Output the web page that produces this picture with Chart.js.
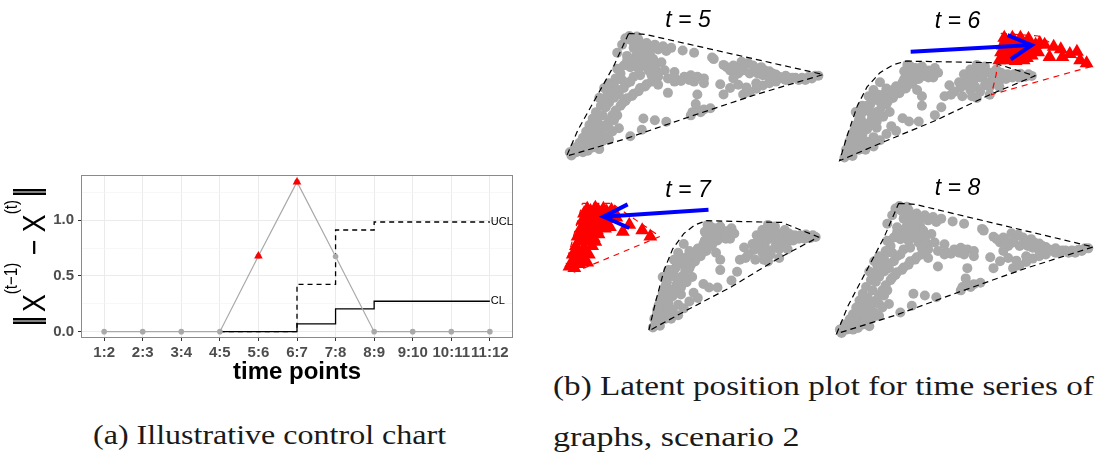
<!DOCTYPE html>
<html>
<head>
<meta charset="utf-8">
<script src="https://cdn.jsdelivr.net/npm/chart.js@4.4.1/dist/chart.umd.min.js"></script>
<style>
  body { margin: 0; background: #fff; width: 1099px; height: 454px; overflow: hidden; position: relative; }
  canvas { position: absolute; }
  .cap { position: absolute; font-family: "Liberation Serif", serif; font-size: 28px; color: #1a1a1a;
         white-space: nowrap; transform-origin: left center; line-height: 1; }
</style>
</head>
<body>
<canvas id="controlChart" width="545" height="235" style="left:0;top:160px"></canvas>
<canvas id="panel5" width="280" height="175" style="left:555px;top:0"></canvas>
<canvas id="panel6" width="269" height="175" style="left:830px;top:0"></canvas>
<canvas id="panel7" width="280" height="180" style="left:555px;top:170px"></canvas>
<canvas id="panel8" width="269" height="180" style="left:830px;top:170px"></canvas>
<div class="cap" style="left:93px;top:421px;transform:scaleX(1.144)">(a) Illustrative control chart</div>
<div class="cap" style="left:553px;top:372px;transform:scaleX(1.185)">(b) Latent position plot for time series of</div>
<div class="cap" style="left:553px;top:423px;transform:scaleX(1.215)">graphs, scenario 2</div>
<script>
// ---- control chart data ----
const timeLabels = ['1:2', '2:3', '3:4', '4:5', '5:6', '6:7', '7:8', '8:9', '9:10', '10:11', '11:12'];
const normDiff = [0, 0, 0, 0, 0.68, 1.345, 0.675, 0, 0, 0, 0];
const flaggedDiff = [null, null, null, null, 0.68, 1.345, null, null, null, null, null];
const centerLine = [null, null, null, 0, 0, 0.07, 0.205, 0.273, 0.273, 0.273, 0.273];
const upperLimit = [null, null, null, 0, 0, 0.425, 0.913, 0.985, 0.985, 0.985, 0.985];

// ---- latent positions (arbitrary units) ----
const greyT5 = [
  [215,120],[240,120],[265,130],[290,135],[315,140],[340,145],[225,145],[250,155],[275,165],[230,175],
  [255,185],[280,190],[205,170],[195,200],[215,205],[240,210],[270,215],[300,220],[185,225],[175,210],
  [310,190],[225,235],[212,108],[235,110],[375,153],[410,160],[465,175],
  [330,240],[355,243],[380,235],[400,230],[420,235],[440,240],[300,235],
  [280,250],[260,265],[240,280],[220,295],[200,310],[185,325],[170,340],[160,355],[150,370],[140,385],
  [125,400],[110,415],[95,430],[80,445],[65,460],[50,470],[35,480],
  [160,270],[145,285],[135,305],[125,325],[110,345],[100,365],[90,385],[80,405],[70,425],[60,440],
  [45,455],[205,255],[190,245],[150,315],[175,160],[190,135],
  [330,285],[420,290],[415,320],[425,340],[405,345],[440,337],[460,333],[255,365],[290,370],[325,375],
  [250,400],[215,420],[180,395],[160,405],[130,435],[150,430],[120,460],[400,355],[430,345],
  [470,180],[500,198],[520,215],[540,212],[555,188],[575,192],[560,215],[580,225],[600,212],[615,205],
  [620,230],[640,218],[640,240],[660,228],[660,245],[680,240],[690,232],[700,245],[720,238],[740,238],
  [760,236],[780,232],[490,258],[500,290],[560,290],[580,282],[600,272],[620,262],
  [200,115],[225,128],[250,138],[275,145],[300,150],[325,155],[205,185],[230,190],[260,200],[290,205],
  [245,230],[215,250],[195,270],[180,290],[170,240],[165,255],[280,230],[320,215],[350,220],[235,165],
  [260,175],[285,180],
  [175,275],[165,300],[150,290],[140,330],[130,355],[115,375],[105,395],[95,410],[85,425],[75,445],
  [65,450],[55,465],[40,470],[30,470],[115,440],[100,455],[85,465],[70,470],[135,420],[130,390],
  [150,395],[165,370],[175,355],[120,300],[135,270],[150,255],
  [290,245],[265,258],[245,270],[225,288],[205,302],[190,318],[300,260],[350,250],[370,248],[395,245],
  [410,250],[440,255],
  [510,205],[530,200],[545,225],[565,200],[590,200],[605,225],[625,215],[650,225],[670,235],[690,245],
  [710,238],[730,245],[750,245],[770,240],[790,232],[530,240],[545,260],[520,270],[600,255],[570,268],
  [640,255],[660,250]
];
const hullT5 = [[210,100],[260,103],[805,228],[600,290],[400,358],[200,428],[20,482],[55,400],[110,300],[165,200],[210,100]];

const greyT6 = [
  [30,485],[45,465],[60,445],[75,425],[90,405],[100,385],[115,365],[130,345],[150,325],[170,305],
  [190,290],[210,275],[230,260],[250,245],[270,235],[295,240],[240,210],[225,220],[215,240],[200,255],
  [180,268],[160,290],[140,302],[120,312],[100,325],[85,345],[70,365],[60,388],[50,410],[40,432],
  [95,300],[150,275],[245,280],[20,495],[65,470],[110,280],[130,255],[75,330],[55,350],[35,455],
  [260,330],[330,300],[320,335],[300,360],[200,370],[220,380],[250,380],[165,395],[180,410],[150,420],
  [110,430],[90,445],[70,455],[120,400],[80,385],[260,300],[345,265],
  [390,230],[410,215],[430,200],[455,205],[440,240],[460,255],[420,250],[400,265],[380,272],[385,300],
  [440,285],[470,270],[480,240],[500,250],[520,245],[540,240],[560,240],[580,238],[600,235],[430,305],
  [350,295],[500,270],[470,295],[215,200],[300,210],[260,215],
  [25,470],[40,480],[50,455],[65,430],[80,410],[95,395],[105,370],[120,350],[135,330],[155,315],
  [175,295],[195,280],[215,265],[235,250],[255,238],[280,240],[245,225],[230,235],[205,245],[190,270],
  [170,280],[145,290],[125,295],[105,310],[90,330],[75,350],[65,375],[55,395],[45,420],[35,445],
  [205,220],[225,205],[260,205],[280,218],[310,225],[100,350],[120,380],[140,365],[160,350],[110,460],
  [130,440],[85,470],[45,490],
  [395,245],[415,230],[435,220],[450,230],[470,225],[490,215],[505,225],[525,230],[545,230],[565,228],
  [590,230],[410,280],[425,270],[455,265],[480,260],[375,255],[360,285],[415,300]
];
const hullT6 = [[210,188],[480,193],[610,235],[470,295],[300,378],[130,450],[5,505],[30,420],[60,330],[90,270],[130,225],[170,200],[210,188]];

const redT6 = [
  [520,124],[545,122],[570,124],[595,128],[612,136],[510,138],[535,140],[560,140],[585,142],[605,150],
  [505,160],[530,162],[555,165],[580,165],[600,170],[500,185],[525,185],[550,188],[575,185],
  [515,114],[540,114],[565,114],[590,117],[520,130],[545,130],[570,130],[595,134],[515,150],[540,150],
  [565,152],[590,155],[510,175],[535,175],[560,178],[585,178],[610,144],[620,160],
  [625,130],[640,136],[655,175],[668,142],[690,150],[695,175],[718,165],[740,158],[750,185],[770,195]
];
const redHullT6 = [[505,100],[620,108],[785,205],[475,295],[490,230],[505,100]];
const arrowShaftT6 = [[225,158],[600,137]];
const arrowHeadT6 = [[525,105],[600,137],[535,182]];

const redT7 = [
  [75,117],[100,114],[125,117],[150,121],[65,132],[90,132],[115,132],[140,137],[60,155],[85,158],
  [110,160],[135,162],[55,180],[80,185],[105,185],[130,180],[45,205],[70,210],[95,210],[40,235],
  [65,240],[90,235],[30,262],[55,265],[80,262],[25,290],[50,292],[75,288],
  [85,124],[110,124],[135,126],[160,128],[75,142],[100,146],[125,146],[150,149],[70,170],[95,172],
  [120,172],[145,175],[60,195],[85,198],[110,198],[50,220],[75,222],[100,222],[45,250],[70,252],
  [40,278],[65,278],[35,305],[20,300],
  [165,145],[185,190],[205,168],[245,185],[270,205]
];
const redHullT7 = [[60,100],[150,100],[300,205],[35,318],[10,290],[60,100]];
const arrowShaftT7 = [[450,120],[125,142]];
const arrowHeadT7 = [[200,103],[125,142],[205,178]];

const GREY = '#a9a9a9';
const TITLE_SIZE = 23;

function toXY(pts) {
    return pts.map(p => ({ x: p[0], y: p[1] }));
}

function series(values) {
    return values.map((v, i) => ({ x: i, y: v }));
}

// 1. Control chart
const endLabels = {
    id: 'endLabels',
    beforeDatasetsDraw(chart) {
        const a = chart.chartArea, ctx = chart.ctx;
        ctx.save();
        ctx.strokeStyle = '#8a8a8a';
        ctx.lineWidth = 1;
        ctx.strokeRect(a.left + 0.5, a.top + 0.5, a.right - a.left - 1, a.bottom - a.top - 1);
        ctx.restore();
    },
    afterDatasetsDraw(chart) {
        const ctx = chart.ctx;
        ctx.save();
        ctx.font = '11px "Liberation Sans"';
        ctx.fillStyle = '#000';
        ctx.textBaseline = 'middle';
        chart.data.datasets.forEach((ds, i) => {
            if (!ds.endLabel) return;
            const pts = chart.getDatasetMeta(i).data;
            const last = pts[pts.length - 1];
            ctx.fillText(ds.label, last.x + 1, last.y);
        });
        ctx.restore();
    }
};

// y axis title ||X^(t-1) - X^(t)||, raised superscripts, read bottom to top
const normTitle = {
    id: 'normTitle',
    afterDraw(chart) {
        const ctx = chart.ctx;
        const big = '32px "Liberation Sans"', small = '18px "Liberation Sans"', bar = '35px "Liberation Sans"';
        const parts = [
            { text: '|', font: bar, rise: 6, after: -5 },
            { text: '|', font: bar, rise: 6, after: 4 },
            { text: 'X', font: big, rise: 0, after: 0 },
            { text: '(t\u22121)', font: small, rise: 28, after: 0 },
            { text: ' \u2212 ', font: big, rise: 0, after: 0 },
            { text: 'X', font: big, rise: 0, after: 0 },
            { text: '(t)', font: small, rise: 28, after: 3 },
            { text: '|', font: bar, rise: 6, after: -5 },
            { text: '|', font: bar, rise: 6, after: 0 }
        ];
        ctx.save();
        let total = 0;
        parts.forEach(p => { ctx.font = p.font; p.w = ctx.measureText(p.text).width; total += p.w + p.after; });
        const a = chart.chartArea;
        ctx.translate(45, (a.top + a.bottom) / 2);
        ctx.rotate(-Math.PI / 2);
        ctx.scale(140 / total, 1);
        ctx.fillStyle = '#000';
        ctx.textBaseline = 'alphabetic';
        let x = -total / 2;
        parts.forEach(p => {
            ctx.font = p.font;
            ctx.fillText(p.text, x, -p.rise);
            x += p.w + p.after;
        });
        ctx.restore();
    }
};

new Chart(document.getElementById('controlChart'), {
    type: 'line',
    data: {
        datasets: [{
            label: 'flagged',
            type: 'scatter',
            data: series(flaggedDiff),
            pointStyle: 'triangle',
            pointRadius: 5,
            backgroundColor: '#ff0000',
            borderWidth: 0
        }, {
            label: 'norm',
            data: series(normDiff),
            borderColor: GREY,
            borderWidth: 1.2,
            pointRadius: 2.8,
            pointBackgroundColor: GREY,
            pointBorderWidth: 0,
            tension: 0
        }, {
            label: 'CL',
            endLabel: true,
            data: series(centerLine),
            stepped: 'before',
            borderColor: '#000',
            borderWidth: 1.3,
            pointRadius: 0
        }, {
            label: 'UCL',
            endLabel: true,
            data: series(upperLimit),
            stepped: 'before',
            borderColor: '#000',
            borderWidth: 1.3,
            borderDash: [5, 4],
            pointRadius: 0
        }]
    },
    options: {
        responsive: false,
        animation: false,
        events: [],
        layout: { padding: { top: 15, right: 32, left: 0, bottom: 0 } },
        plugins: { legend: { display: false }, tooltip: { enabled: false } },
        scales: {
            x: {
                type: 'linear',
                min: -0.6,
                max: 10.6,
                afterBuildTicks: axis => { axis.ticks = timeLabels.map((_, i) => ({ value: i })); },
                afterFit: axis => { axis.height = 57; },
                grid: { color: '#ebebeb', tickColor: '#333', tickLength: 3 },
                border: { display: false },
                ticks: {
                    autoSkip: false,
                    maxRotation: 0,
                    padding: 3,
                    color: '#4d4d4d',
                    font: { family: 'Liberation Sans', size: 15, weight: 'bold' },
                    callback: value => timeLabels[value]
                },
                title: {
                    display: true,
                    text: 'time points',
                    color: '#000',
                    padding: { top: 0, bottom: 8 },
                    font: { family: 'Liberation Sans', size: 24, weight: 'bold' }
                }
            },
            y: {
                min: -0.057,
                max: 1.407,
                afterBuildTicks: axis => { axis.ticks = [0, 0.25, 0.5, 0.75, 1, 1.25].map(v => ({ value: v })); },
                afterFit: axis => { axis.width = 81; },
                grid: {
                    tickLength: 3,
                    color: ctx => ctx.tick.value % 0.5 === 0 ? '#ebebeb' : '#f3f3f3',
                    lineWidth: ctx => ctx.tick.value % 0.5 === 0 ? 1 : 0.7,
                    tickColor: ctx => ctx.tick.value % 0.5 === 0 ? '#333' : 'rgba(0,0,0,0)'
                },
                border: { display: false },
                ticks: {
                    padding: 4,
                    color: '#4d4d4d',
                    font: { family: 'Liberation Sans', size: 15, weight: 'bold' },
                    callback: value => value % 0.5 === 0 ? value.toFixed(1) : ''
                },
                title: { display: false }
            }
        }
    },
    plugins: [endLabels, normTitle]
});

// 2. Latent position panels
function drawPanel(id, cfg) {
    const canvas = document.getElementById(id);
    const padRight = 14;
    const top = cfg.titlePad + TITLE_SIZE * 1.2;
    // visible window, 3 units per pixel
    const xr = [0, 3 * (canvas.width - padRight)];
    const yr = [3 * top, 3 * canvas.height];
    const g = cfg.greyMap;

    const datasets = [];
    const line = (pts, color, width, dash, gx) => ({
        data: toXY(pts),
        showLine: true,
        borderColor: color,
        borderWidth: width,
        borderDash: dash,
        pointRadius: 0,
        tension: 0,
        clip: false,
        xAxisID: gx ? 'xg' : 'x',
        yAxisID: gx ? 'yg' : 'y'
    });
    if (cfg.arrow) {
        datasets.push(line(cfg.arrow[0], '#0000ff', 4, [], false));
        datasets.push(line(cfg.arrow[1], '#0000ff', 4, [], false));
    }
    if (cfg.red) {
        datasets.push({
            data: toXY(cfg.red),
            pointStyle: 'triangle',
            pointRadius: 8,
            backgroundColor: '#ff0000',
            borderWidth: 0,
            clip: false,
            xAxisID: 'x', yAxisID: 'y'
        });
        datasets.push(line(cfg.redHull, '#ff0000', 1.2, [6, 5], false));
    }
    datasets.push(line(cfg.hull, '#000', 1.2, [6, 4], true));
    datasets.push({
        data: toXY(cfg.grey),
        pointRadius: 5,
        backgroundColor: GREY,
        borderWidth: 0,
        clip: false,
        xAxisID: 'xg', yAxisID: 'yg'
    });

    new Chart(canvas, {
        type: 'scatter',
        data: { datasets },
        options: {
            responsive: false,
            animation: false,
            events: [],
            layout: { padding: { right: padRight } },
            plugins: {
                legend: { display: false },
                tooltip: { enabled: false },
                title: {
                    display: true,
                    text: cfg.title,
                    color: '#000',
                    padding: { top: cfg.titlePad, bottom: 0 },
                    font: { family: 'Liberation Sans', size: TITLE_SIZE, style: 'italic', weight: 'normal', lineHeight: 1.2 }
                }
            },
            scales: {
                x: { type: 'linear', display: false, min: xr[0], max: xr[1] },
                y: { type: 'linear', display: false, reverse: true, min: yr[0], max: yr[1] },
                xg: { axis: 'x', type: 'linear', display: false, min: (xr[0] - g.bx) / g.ax, max: (xr[1] - g.bx) / g.ax },
                yg: { axis: 'y', type: 'linear', display: false, reverse: true, min: (yr[0] - g.by) / g.ay, max: (yr[1] - g.by) / g.ay }
            }
        }
    });
}

drawPanel('panel5', { title: 't = 5', titlePad: 7, grey: greyT5, hull: hullT5, greyMap: { ax: 1, bx: 0, ay: 1, by: 0 } });
drawPanel('panel6', {
    title: 't = 6', titlePad: 8, grey: greyT6, hull: hullT6, greyMap: { ax: 1, bx: 0, ay: 1, by: 0 },
    red: redT6, redHull: redHullT6, arrow: [arrowShaftT6, arrowHeadT6]
});
drawPanel('panel7', {
    title: 't = 7', titlePad: 7, grey: greyT6, hull: hullT6, greyMap: { ax: 0.868, bx: 260.7, ay: 1.104, by: -52.6 },
    red: redT7, redHull: redHullT7, arrow: [arrowShaftT7, arrowHeadT7]
});
drawPanel('panel8', { title: 't = 8', titlePad: 4.5, grey: greyT5, hull: hullT5, greyMap: { ax: 1, bx: -15, ay: 1.06, by: -6 } });
</script>
</body>
</html>
